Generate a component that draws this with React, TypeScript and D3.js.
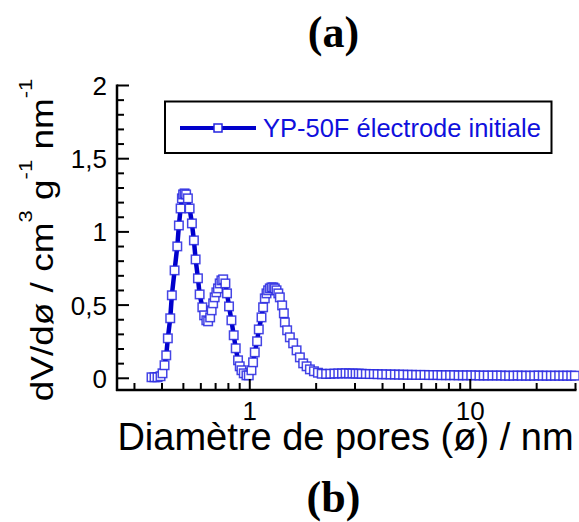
import React from "react";
import * as d3 from "d3";

const diameters = [
  0.3585, 0.37, 0.3817, 0.3939, 0.4021, 0.4107, 0.4181, 0.4251, 0.4359, 0.4433,
  0.4561, 0.4692, 0.4771, 0.4857, 0.4923, 0.4985, 0.5064, 0.5145, 0.5242, 0.5337,
  0.5466, 0.5581, 0.5682, 0.5821, 0.5925, 0.6095, 0.6211, 0.6355, 0.6476, 0.6613,
  0.6717, 0.6823, 0.6931, 0.7055, 0.7175, 0.7305, 0.7437, 0.7577, 0.7754, 0.7886,
  0.8053, 0.8257, 0.8458, 0.8637, 0.8847, 0.9006, 0.9168, 0.9391, 0.966, 0.9896,
  1.0179, 1.0351, 1.0537, 1.0794, 1.0988, 1.1304, 1.1495, 1.1699, 1.1909, 1.211,
  1.2328, 1.2549, 1.2789, 1.299, 1.3225, 1.3475, 1.369, 1.4022, 1.4275, 1.4425,
  1.4774, 1.5199, 1.5733, 1.6304, 1.6877, 1.7469, 1.8103, 1.8738, 1.954, 2.0378,
  2.12,
  2.22, 2.32, 2.42, 2.52, 2.62, 2.72, 2.82, 2.92, 3.02, 3.12,
  3.22, 3.36, 3.5, 3.65, 3.8, 3.98, 4.16, 4.35, 4.55, 4.75,
  4.96, 5.2, 5.44, 5.68, 5.94, 6.2, 6.5, 6.8, 7.1, 7.4,
  7.75, 8.1, 8.45, 8.85, 9.25, 9.65, 10.1, 10.55, 11.0, 11.5,
  12.0, 12.6, 13.2, 13.8, 14.4, 15.0, 15.7, 16.4, 17.1, 17.9,
  18.7, 19.5, 20.4, 21.3, 22.2, 23.2, 24.2, 25.3, 26.4, 27.5,
  28.7, 29.8,
];

const dVdD = [
  0.007, 0.007, 0.007, 0.014, 0.034, 0.089, 0.157, 0.273, 0.41, 0.567,
  0.737, 0.901, 1.044, 1.16, 1.229, 1.256, 1.263, 1.256, 1.229, 1.16,
  1.058, 0.942, 0.812, 0.683, 0.573, 0.485, 0.43, 0.396, 0.389, 0.416,
  0.464, 0.512, 0.553, 0.587, 0.614, 0.648, 0.669, 0.676, 0.648, 0.58,
  0.491, 0.396, 0.294, 0.205, 0.123, 0.082, 0.055, 0.034, 0.02, 0.02,
  0.055, 0.109, 0.177, 0.253, 0.334, 0.416, 0.485, 0.546, 0.58, 0.601,
  0.614, 0.621, 0.621, 0.614, 0.601, 0.58, 0.553, 0.498, 0.444, 0.382,
  0.328, 0.28, 0.239, 0.191, 0.143, 0.102, 0.082, 0.061, 0.048, 0.038,
  0.031,
  0.03, 0.031, 0.032, 0.033, 0.033, 0.034, 0.033, 0.033, 0.032, 0.032,
  0.031, 0.03, 0.029, 0.029, 0.028, 0.027, 0.027, 0.026, 0.026, 0.025,
  0.025, 0.024, 0.024, 0.023, 0.023, 0.023, 0.022, 0.022, 0.022, 0.021,
  0.021, 0.021, 0.021, 0.02, 0.02, 0.02, 0.02, 0.02, 0.019, 0.019,
  0.019, 0.019, 0.019, 0.019, 0.018, 0.018, 0.018, 0.019, 0.018, 0.018,
  0.018, 0.018, 0.019, 0.018, 0.018, 0.018, 0.018, 0.018, 0.018, 0.018,
  0.018, 0.018,
];

const yMajorTicks = [0, 0.5, 1, 1.5, 2];
const yMajorLabels = ["0", "0,5", "1", "1,5", "2"];
const yMinorTicks = [0.1, 0.2, 0.3, 0.4, 0.6, 0.7, 0.8, 0.9, 1.1, 1.2, 1.3, 1.4, 1.6, 1.7, 1.8, 1.9];
const xMajorTicks = [1, 10];
const xMajorLabels = ["1", "10"];
const xMinorTicks = [0.3, 0.4, 0.5, 0.6, 0.7, 0.8, 0.9, 2, 3, 4, 5, 6, 7, 8, 9, 20, 30];

const seriesName = "YP-50F électrode initiale";
const xTitle = "Diamètre de pores (ø) / nm";

const W = 579;
const H = 522;
const LEFT = 117;
const RIGHT = 575.5;
const TOP = 85.5;
const BOTTOM = 390;

const SANS = "'Liberation Sans', Arial, Helvetica, sans-serif";
const SERIF = "'Liberation Serif', 'Times New Roman', serif";
const LINE_BLUE = "#0000cc";
const MARK_BLUE = "#2424e0";

export default function App() {
  const x = d3.scaleLog().domain([0.25, 30]).range([LEFT, RIGHT]);
  const y = d3.scaleLinear().domain([-0.08, 2]).range([BOTTOM, TOP]);

  const pts = diameters.map((d, i) => [d, dVdD[i]] as [number, number]);
  const line = d3
    .line<[number, number]>()
    .x((p) => x(p[0]))
    .y((p) => y(p[1]));

  const ms = 8.5;

  return (
    <svg width={W} height={H} style={{ position: "absolute", left: 0, top: 0, background: "#fff" }}>
      {/* titles */}
      <text x={333.5} y={47} textAnchor="middle" fontFamily={SERIF} fontWeight="bold" fontSize={44}>
        (a)
      </text>
      <text x={333.5} y={512} textAnchor="middle" fontFamily={SERIF} fontWeight="bold" fontSize={44}>
        (b)
      </text>

      {/* data */}
      <path d={line(pts) || ""} fill="none" stroke={LINE_BLUE} strokeWidth={4.5} strokeLinejoin="round" />
      <g>
        {pts.map((p, i) => (
          <rect
            key={i}
            x={x(p[0]) - ms / 2}
            y={y(p[1]) - ms / 2}
            width={ms}
            height={ms}
            fill="#fff"
            stroke={MARK_BLUE}
            strokeOpacity={0.85}
            strokeWidth={1.5}
          />
        ))}
      </g>

      {/* axes */}
      <line x1={LEFT} y1={TOP - 1} x2={LEFT} y2={BOTTOM + 1} stroke="#000" strokeWidth={2.5} />
      <line x1={LEFT - 1} y1={BOTTOM} x2={RIGHT + 1} y2={BOTTOM} stroke="#000" strokeWidth={2.5} />
      {yMajorTicks.map((t, i) => (
        <g key={"ym" + i}>
          <line x1={LEFT} x2={LEFT + 12} y1={y(t)} y2={y(t)} stroke="#000" strokeWidth={2} />
          <text x={107} y={y(t) + 9.5} textAnchor="end" fontFamily={SANS} fontSize={26}>
            {yMajorLabels[i]}
          </text>
        </g>
      ))}
      {yMinorTicks.map((t, i) => (
        <line key={"yn" + i} x1={LEFT} x2={LEFT + 7} y1={y(t)} y2={y(t)} stroke="#000" strokeWidth={2} />
      ))}
      {xMajorTicks.map((t, i) => (
        <g key={"xm" + i}>
          <line x1={x(t)} x2={x(t)} y1={BOTTOM} y2={BOTTOM - 11} stroke="#000" strokeWidth={2} />
          <text x={x(t)} y={420} textAnchor="middle" fontFamily={SANS} fontSize={26}>
            {xMajorLabels[i]}
          </text>
        </g>
      ))}
      {xMinorTicks.map((t, i) => (
        <line key={"xn" + i} x1={x(t)} x2={x(t)} y1={BOTTOM} y2={BOTTOM - 7} stroke="#000" strokeWidth={2} />
      ))}

      {/* axis titles */}
      <text x={345.5} y={450} textAnchor="middle" fontFamily={SANS} fontSize={38}>
        {xTitle}
      </text>
      <g transform="translate(53,240) rotate(-90) scale(1,0.86)">
        <text x={0} y={0} textAnchor="middle" fontFamily={SANS} fontSize={37}>
          <tspan>dV/dø / cm</tspan>
          <tspan fontSize={22} dy={-24}>3</tspan>
          <tspan dy={24}> g</tspan>
          <tspan fontSize={22} dy={-24}>-1</tspan>
          <tspan dy={24}> nm</tspan>
          <tspan fontSize={22} dy={-24}>-1</tspan>
        </text>
      </g>

      {/* legend */}
      <rect x={165} y={101.5} width={386.5} height={51.5} fill="#fff" stroke="#000" strokeWidth={2} />
      <line x1={180} x2={256} y1={128} y2={128} stroke={LINE_BLUE} strokeWidth={4} />
      <rect x={214} y={124} width={8} height={8} fill="#fff" stroke={MARK_BLUE} strokeWidth={1.5} />
      <text x={263} y={136.5} fontFamily={SANS} fontSize={25.5} fill="#1010dd">
        {seriesName}
      </text>
    </svg>
  );
}
